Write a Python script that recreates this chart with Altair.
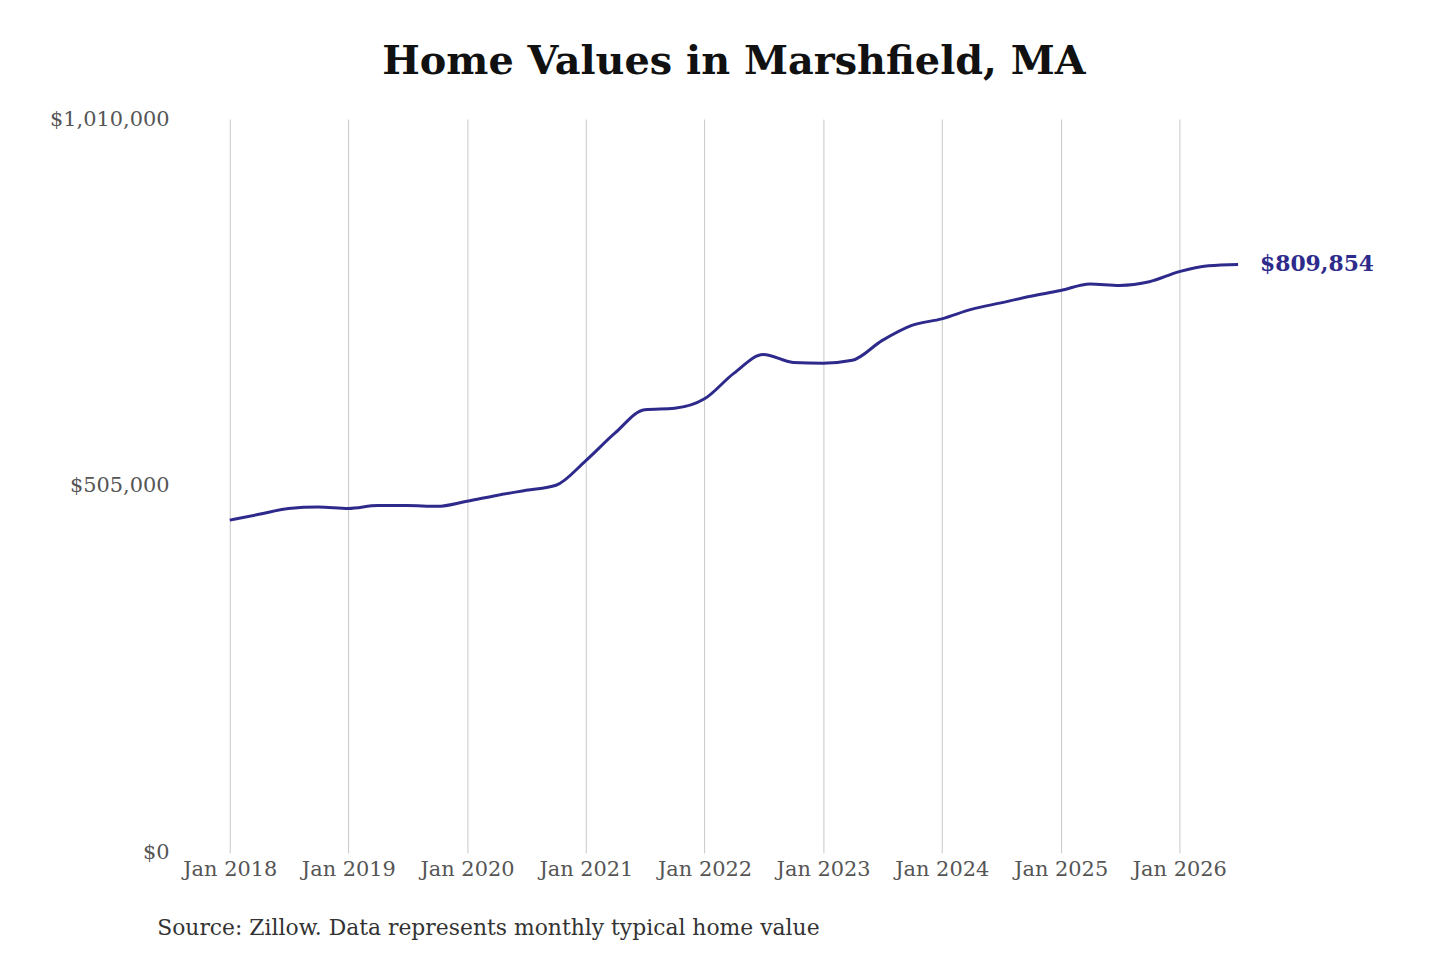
import altair as alt
import pandas as pd

dates = ["2018-01-01","2018-04-01","2018-07-01","2018-10-01","2019-01-01","2019-04-01","2019-07-01","2019-10-01",
         "2020-01-01","2020-04-01","2020-07-01","2020-10-01","2021-01-01","2021-04-01","2021-07-01","2021-10-01",
         "2022-01-01","2022-04-01","2022-07-01","2022-10-01","2023-01-01","2023-04-01","2023-07-01","2023-10-01",
         "2024-01-01","2024-04-01","2024-07-01","2024-10-01","2025-01-01","2025-04-01","2025-07-01","2025-10-01",
         "2026-01-01","2026-04-01","2026-07-01"]
values = [458000,466000,474000,476000,474000,478000,478000,477000,
          484000,492000,499000,506000,540000,578000,610000,612000,
          625000,660000,686000,675000,674000,678000,705000,726000,
          735000,748000,757000,766000,774000,783000,781000,786000,
          800000,808000,809854]
end_label = "$809,854"

df = pd.DataFrame({"date": pd.to_datetime(dates), "value": values})
W, H = 1014, 738
serif = "DejaVu Serif"

x = alt.X("date:T", scale=alt.Scale(domain=["2018-01-01", "2026-07-01"], nice=False),
          axis=alt.Axis(format="%b %Y", tickCount={"interval": "year", "step": 1}, grid=True,
                        gridColor="#c8c8c8", domain=False, ticks=False, labelFont=serif,
                        labelFontSize=21, labelColor="#555", labelPadding=6, labelAlign="center",
                        labelOverlap=False, labelFlush=False, title=None))
y = alt.Y("value:Q", scale=alt.Scale(domain=[0, 1010000], nice=False, zero=True),
          axis=alt.Axis(values=[0, 505000, 1010000], format="$,.0f", grid=False, domain=False,
                        ticks=False, labelFont=serif, labelFontSize=21, labelColor="#555",
                        labelPadding=61, title=None))

line = alt.Chart(df).mark_line(color="#2e2a8c", strokeWidth=3, interpolate="monotone").encode(x=x, y=y)
lab = alt.Chart(df.tail(1).assign(t=end_label)).mark_text(
    align="left", dx=22, font=serif, fontSize=22, fontWeight="bold", color="#2e2a8c"
).encode(x="date:T", y="value:Q", text="t:N")
src = alt.Chart(pd.DataFrame({"t": ["Source: Zillow. Data represents monthly typical home value"]})).mark_text(
    align="left", font=serif, fontSize=22, color="#333"
).encode(x=alt.value(-73), y=alt.value(H + 76), text="t:N")

chart = alt.layer(line, lab, src).properties(
    width=W, height=H,
    autosize=alt.AutoSizeParams(type="none"),
    padding={"left": 223, "top": 109, "right": 195, "bottom": 100},
    title=alt.TitleParams("Home Values in Marshfield, MA", font=serif, fontSize=40,
                          fontWeight="bold", color="#111", anchor="middle", offset=26),
).configure_view(stroke=None)

chart.save("out.html", embed_options={"renderer": "svg", "actions": False})
